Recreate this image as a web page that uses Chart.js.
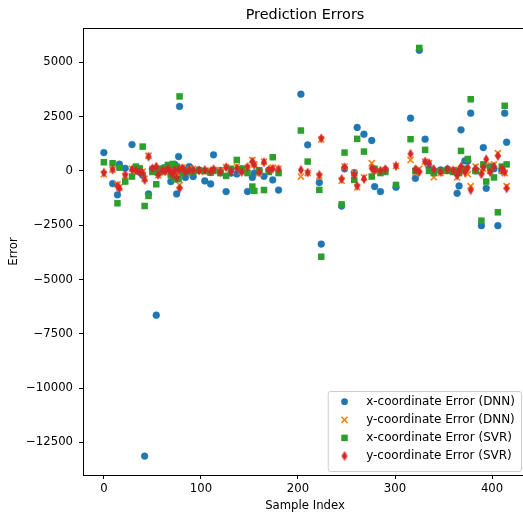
<!DOCTYPE html>
<html>
<head>
<meta charset="utf-8">
<script src="https://cdn.jsdelivr.net/npm/chart.js@4.4.1/dist/chart.umd.min.js"></script>
<style>
  html, body { margin: 0; padding: 0; background: #fff; overflow: hidden; }
  #wrap { width: 523px; height: 516px; overflow: hidden; position: relative; }
</style>
</head>
<body>
<div id="wrap"><canvas id="errChart" width="527" height="516"></canvas></div>
<script>
// sample indices of the test set and the errors
const sampleIdx = [0, 9, 14, 16, 22, 29, 33, 37, 40, 42, 46, 50, 54, 56, 60, 63, 66, 69, 71, 73, 75, 77, 78, 81, 84, 88, 92, 98,
  104, 110, 113, 120, 126, 131, 137, 142, 148, 153, 155, 160, 165, 170, 174, 180, 203, 210, 222, 224, 245, 248, 258, 261,
  268, 276, 279, 285, 290, 301, 316, 321, 325, 331, 335, 340, 347, 354, 360, 364, 366, 368, 372, 375, 378, 383, 389, 391,
  394, 398, 402, 406, 410, 413, 415];
const dnnX = [845, -585, -1100, 310, 120, 1215, 150, -60, -200, -13130, -1060, 80, -6640, 60, 100, 150, 220, -490, 40, 300, -1060, 660, 2970, 120, -300, 200, -260, 50,
  -460, -600, 740, 20, -950, -100, -140, 100, -950, -300, -100, 20, -250, 30, -415, -880, 3535, 1200, -535, -3370, -1615, 100, -75, 2000,
  1690, 1400, -720, -950, 50, -750, 2430, -340, 5550, 1460, 200, 0, 50, 80, 0, -1030, -690, 1890, 460, 460, 2660, 0, -2520, 1075,
  -800, 200, 100, -2520, 0, 2660, 1320];
const dnnY = [-150, 60, -620, -760, -230, 100, 30, 80, -30, -360, 700, 100, 120, -200, 40, -60, 80, -120, 30, 160, -60, 20, -650, 150, 60, -20, 100, 0,
  -50, 20, 50, 30, 170, 0, 200, -20, 150, 505, 300, -100, 430, 0, 150, 100, -260, -100, -250, 1450, -450, 200, -100, -750,
  -300, 355, 0, 0, 20, 230, 505, -100, 100, 430, 355, -290, -100, 0, 50, -300, 50, 100, 0, -150, -700, 200, 0, 100,
  250, 0, 300, 815, 0, -100, -700];
const svrX = [400, 355, -1490, 150, -490, -260, 200, 120, 1120, -1615, -1150, -50, -615, -80, 60, 150, 275, -200, 320, -380, 200, -380, 3430, -100, 20, -60, -50, 30,
  0, -80, 0, -100, -230, 100, 505, 80, -100, -720, -920, 30, -880, -50, 630, -100, 1860, 430, -875, -3950, -1540, 845, -415, 1475,
  890, -260, 100, -100, -50, -645, 1460, 0, 5660, 970, 0, -100, 0, 0, -50, 0, -100, 920, 100, 550, 3300, 0, -2290, 300,
  -490, 150, -300, -1905, 200, 3000, 300];
const svrY = [-80, 60, -690, -810, -185, 60, 20, -40, -100, -415, 660, 120, 200, -185, 10, -20, 100, -60, -150, 30, -300, 50, -800, 120, -50, 40, 45, 20,
  45, -30, 80, -50, 170, -20, 120, -50, 180, 430, 275, -60, 400, 50, 100, 80, 45, -75, -185, 1500, -370, 170, -185, -690,
  -370, 125, 30, 15, 80, 230, 785, 80, -50, 430, 355, 80, -50, 80, 30, -200, 0, 200, -50, 150, -880, 100, -150, 150,
  540, -50, 200, 690, 100, -50, -800];
const seriesNames = ['x-coordinate Error (DNN)', 'y-coordinate Error (DNN)', 'x-coordinate Error (SVR)', 'y-coordinate Error (SVR)'];
const xTicks = [0, 100, 200, 300, 400];
const yTicks = [-12500, -10000, -7500, -5000, -2500, 0, 2500, 5000];

const FONT = 'DejaVu Sans';
Chart.defaults.font.family = FONT;
Chart.defaults.font.size = 11.7;
Chart.defaults.color = '#000';

function thinDiamond(color) {
  const c = document.createElement('canvas');
  c.width = 8; c.height = 11;
  const g = c.getContext('2d');
  g.fillStyle = color;
  g.beginPath();
  g.moveTo(4, 0.5); g.lineTo(7, 5.5); g.lineTo(4, 10.5); g.lineTo(1, 5.5);
  g.closePath();
  g.fill();
  return c;
}

const pts = arr => sampleIdx.map((x, i) => ({ x: x, y: arr[i] }));
const minus = v => String(v).replace('-', '\u2212');

const datasets = [
  { label: seriesNames[0], data: pts(dnnX), pointStyle: 'circle', pointRadius: 3.4, backgroundColor: '#1f77b4', borderColor: '#1f77b4', borderWidth: 0.5, order: 4 },
  { label: seriesNames[1], data: pts(dnnY), pointStyle: 'crossRot', pointRadius: 4.3, backgroundColor: '#ff7f0e', borderColor: '#ff7f0e', borderWidth: 1.6, order: 3 },
  { label: seriesNames[2], data: pts(svrX), pointStyle: 'rect', pointRadius: 4.6, backgroundColor: '#2ca02c', borderColor: '#2ca02c', borderWidth: 0, order: 2 },
  { label: seriesNames[3], data: pts(svrY), pointStyle: thinDiamond('#d62728'), pointRadius: 4, backgroundColor: '#d62728', borderColor: '#d62728', borderWidth: 0, order: 1 }
];

function drawMarker(ctx, ds, x, y) {
  ctx.save();
  ctx.fillStyle = ds.backgroundColor;
  ctx.strokeStyle = ds.borderColor;
  ctx.lineWidth = ds.borderWidth;
  const r = ds.pointRadius;
  if (ds.pointStyle === 'circle') {
    ctx.beginPath(); ctx.arc(x, y, r, 0, Math.PI * 2); ctx.fill();
  } else if (ds.pointStyle === 'crossRot') {
    const o = r * Math.SQRT1_2;
    ctx.beginPath();
    ctx.moveTo(x - o, y - o); ctx.lineTo(x + o, y + o);
    ctx.moveTo(x - o, y + o); ctx.lineTo(x + o, y - o);
    ctx.stroke();
  } else if (ds.pointStyle === 'rect') {
    const s = r * Math.SQRT1_2;
    ctx.fillRect(x - s, y - s, 2 * s, 2 * s);
  } else {
    const img = ds.pointStyle;
    ctx.drawImage(img, x - img.width / 2, y - img.height / 2);
  }
  ctx.restore();
}

const framePlugin = {
  id: 'frame',
  afterDraw(chart) {
    const { ctx, chartArea: a } = chart;
    ctx.save();
    // title over the axes
    ctx.font = '14.4px "' + FONT + '"';
    ctx.fillStyle = '#000';
    ctx.textAlign = 'center';
    ctx.textBaseline = 'middle';
    ctx.fillText('Prediction Errors', (a.left + a.right) / 2, 15);
    // spines (right one sits past the clipped edge, as in the source)
    ctx.strokeStyle = '#000';
    ctx.lineWidth = 1;
    ctx.strokeRect(Math.round(a.left) + 0.5, Math.round(a.top) + 0.5, Math.round(a.right - a.left), Math.round(a.bottom - a.top));
    // legend, lower right
    const fs = 12;
    ctx.font = fs + 'px "' + FONT + '"';
    const tw = Math.max(...seriesNames.map(n => ctx.measureText(n).width));
    const w = fs * 0.4 + fs * 2 + fs * 0.8 + tw + fs * 0.5;
    const h = 80;
    const right = a.right - 6, bottom = a.bottom - 4;
    const left = right - w, top = bottom - h;
    ctx.beginPath();
    ctx.roundRect(left + 0.5, top + 0.5, w, h, 2.5);
    ctx.fillStyle = 'rgba(255,255,255,0.8)';
    ctx.fill();
    ctx.strokeStyle = '#cccccc';
    ctx.stroke();
    chart.data.datasets.forEach((ds, i) => {
      const y = top + 10.7 + i * 18.1;
      drawMarker(ctx, ds, left + fs * 0.4 + fs, y);
      ctx.fillStyle = '#000';
      ctx.textAlign = 'left';
      ctx.textBaseline = 'middle';
      ctx.fillText(ds.label, left + fs * 3.2, y);
    });
    ctx.restore();
  }
};

new Chart(document.getElementById('errChart'), {
  type: 'scatter',
  data: { datasets: datasets },
  options: {
    responsive: false,
    animation: false,
    devicePixelRatio: 1,
    events: [],
    layout: { autoPadding: false, padding: { top: 28, right: 0, left: 0, bottom: 0 } },
    plugins: { legend: { display: false }, tooltip: { enabled: false }, title: { display: false } },
    scales: {
      x: {
        type: 'linear', min: -21.5, max: 436,
        afterFit: s => { s.height = 41; s.paddingLeft = 0; s.paddingRight = 0; },
        afterBuildTicks: s => { s.ticks = xTicks.map(v => ({ value: v })); },
        grid: { display: true, drawOnChartArea: false, drawTicks: true, tickLength: 4, color: '#000' },
        border: { display: true, color: '#000', width: 1 },
        ticks: { padding: 3, maxRotation: 0, callback: v => minus(v) },
        title: { display: true, text: 'Sample Index', padding: { top: 0, bottom: 3 } }
      },
      y: {
        type: 'linear', min: -14000, max: 6580,
        afterFit: s => { s.width = 83; s.paddingTop = 0; s.paddingBottom = 0; },
        afterBuildTicks: s => { s.ticks = yTicks.map(v => ({ value: v })); },
        grid: { display: true, drawOnChartArea: false, drawTicks: true, tickLength: 4, color: '#000' },
        border: { display: true, color: '#000', width: 1 },
        ticks: { padding: 6, callback: v => minus(v) },
        title: { display: true, text: 'Error', padding: { top: 7, bottom: 0 } }
      }
    }
  },
  plugins: [framePlugin]
});
</script>
</body>
</html>
